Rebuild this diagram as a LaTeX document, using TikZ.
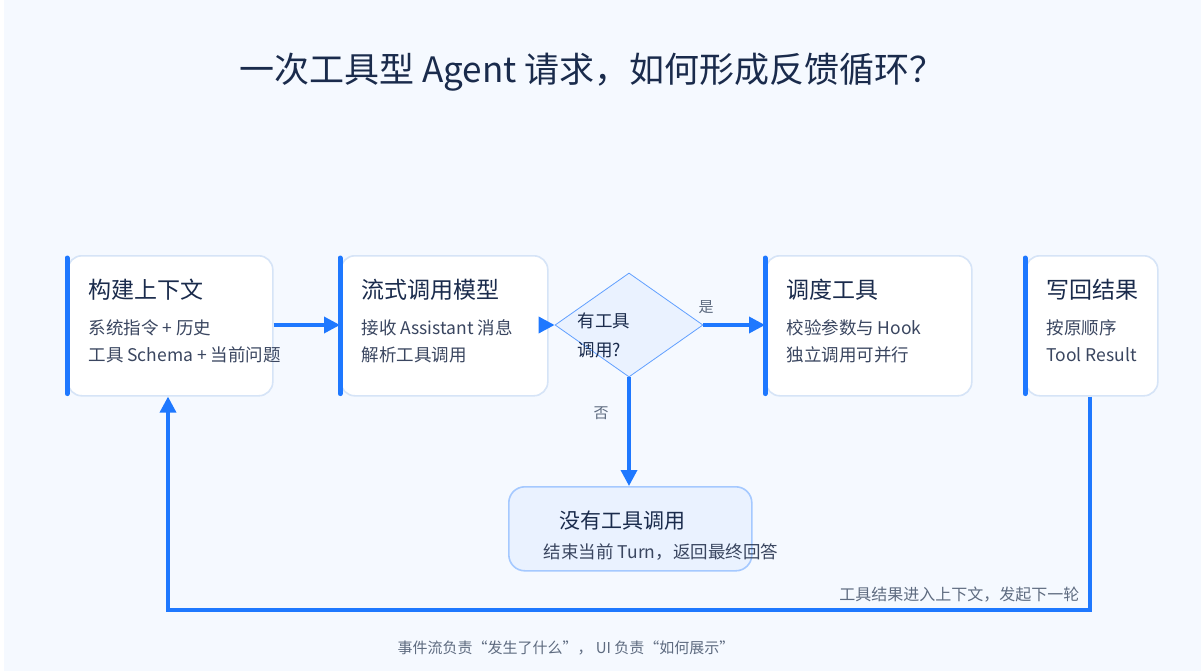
\documentclass[tikz,border=0pt]{standalone}
\usepackage{fontspec}
\setmainfont{Noto Sans CJK SC}
\usetikzlibrary{calc,shapes.geometric,arrows.meta}
\definecolor{bgc}{HTML}{F5F9FF}
\definecolor{navy}{HTML}{1A2B4C}
\definecolor{bodyc}{HTML}{3A4660}
\definecolor{edgec}{HTML}{D6E4F7}
\definecolor{accent}{HTML}{1E78FF}
\definecolor{greyc}{HTML}{5E6B80}
\definecolor{pale}{HTML}{EAF2FF}
\tikzset{
  card/.style={draw=edgec, line width=1.6pt, fill=white, rounded corners=14pt,
    minimum width=#1, minimum height=140pt, inner sep=0pt, anchor=north west},
  bar/.style={draw=accent, line width=5pt, line cap=round},
  head/.style={anchor=west, text=navy, font=\fontsize{23}{27}\selectfont},
  body/.style={anchor=west, text=bodyc, font=\fontsize{17.5}{21}\selectfont},
  note/.style={text=greyc, font=\fontsize{15}{18}\selectfont},
  arr/.style={draw=accent, line width=3.5pt, -{Triangle[length=16pt,width=16pt]}},
}
\begin{document}
\begin{tikzpicture}[x=1pt,y=-1pt]
  \fill[white] (0,0) rectangle (1201,671);
  \fill[bgc] (4,0) rectangle (1201,671);
  \useasboundingbox (0,0) rectangle (1201,671);
  % title
  \node[text=navy, font=\fontsize{35}{40}\selectfont] (title) at (592,72) {一次工具型 Agent 请求，如何形成反馈循环？};
  % cards
  \node[card=205pt] (b1) at (67,255) {};
  \node[card=207pt] (b2) at (340,255) {};
  \node[card=206pt] (b3) at (765,255) {};
  \node[card=132pt] (b4) at (1025,255) {};
  \foreach \b in {b1,b2,b3,b4}
    \draw[bar] ($(\b.north west)+(0,3)$) -- ($(\b.south west)+(0,-3)$);
  % card texts
  \node[head] (h1) at ($(b1.north west)+(18,35)$) {构建上下文};
  \node[body] (t1a) at ($(b1.north west)+(18,73)$) {系统指令 + 历史};
  \node[body] (t1b) at ($(b1.north west)+(18,100)$) {工具 Schema + 当前问题};
  \node[head] (h2) at ($(b2.north west)+(18,35)$) {流式调用模型};
  \node[body] (t2a) at ($(b2.north west)+(18,73)$) {接收 Assistant 消息};
  \node[body] (t2b) at ($(b2.north west)+(18,100)$) {解析工具调用};
  \node[head] (h3) at ($(b3.north west)+(18,35)$) {调度工具};
  \node[body] (t3a) at ($(b3.north west)+(18,73)$) {校验参数与 Hook};
  \node[body] (t3b) at ($(b3.north west)+(18,100)$) {独立调用可并行};
  \node[head] (h4) at ($(b4.north west)+(18,35)$) {写回结果};
  \node[body] (t4a) at ($(b4.north west)+(18,73)$) {按原顺序};
  \node[body] (t4b) at ($(b4.north west)+(18,100)$) {Tool Result};
  % decision
  \node[diamond, draw=accent!70, line width=0.8pt, fill=pale, minimum width=148pt,
    minimum height=104pt, inner sep=0pt] (dec) at (629,325) {};
  \node[body, text=navy] (d1) at (574,321) {有工具};
  \node[body, text=navy] (d2) at (574,350) {调用?};
  % end card
  \node[draw=accent!40, line width=1.6pt, fill=pale, rounded corners=16pt,
    minimum width=243pt, minimum height=84pt, inner sep=0pt, anchor=north west] (end) at (508,486) {};
  \node[text=navy, font=\fontsize{21}{25}\selectfont] (e1) at (622,521) {没有工具调用};
  \node[text=bodyc, font=\fontsize{17.5}{21}\selectfont] (e2) at (661,552) {结束当前 Turn，返回最终回答};
  % connectors
  \draw[arr] (b1.east |- 0,325) -- (b2.west |- 0,325);
  \draw[arr] (b2.east |- 0,325) -- (dec.west);
  \draw[arr] (dec.east) -- (b3.west |- dec.east);
  \draw[arr] (dec.south) -- (end.north -| dec.south);
  \node[note] (yes) at (706,307) {是};
  \node[note] (no) at (601,413) {否};
  % feedback loop
  \coordinate (lpR) at (1090,610);
  \coordinate (lpL) at (168,610);
  \draw[arr] (b4.south -| lpR) -- (lpR) -- (lpL) -- (b1.south -| lpL);
  \node[note, anchor=east, font=\fontsize{16}{19}\selectfont] (loop) at (1083,595) {工具结果进入上下文，发起下一轮};
  % footer
  \node[note] (foot) at (566,648) {事件流负责“发生了什么”， UI 负责“如何展示”};
\end{tikzpicture}
\end{document}
